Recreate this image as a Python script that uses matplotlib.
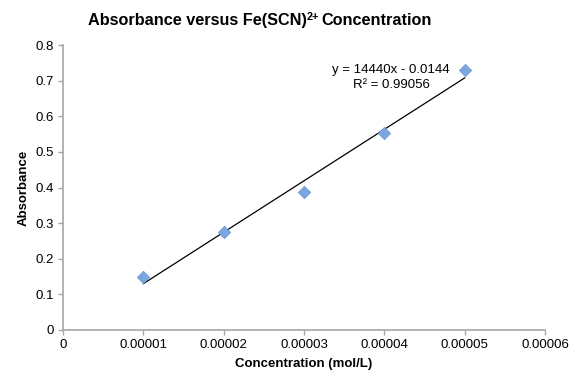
import numpy as np
import matplotlib
matplotlib.use("Agg")
import matplotlib.pyplot as plt

plt.rcParams['font.family'] = ['Liberation Sans', 'DejaVu Sans']

# data
conc = [0.00001, 0.00002, 0.00003, 0.00004, 0.00005]
absorb = [0.148, 0.275, 0.388, 0.553, 0.730]
x_ticks = [0, 0.00001, 0.00002, 0.00003, 0.00004, 0.00005, 0.00006]
x_tick_labels = ['0', '0.00001', '0.00002', '0.00003', '0.00004', '0.00005', '0.00006']
y_ticks = [0, 0.1, 0.2, 0.3, 0.4, 0.5, 0.6, 0.7, 0.8]
y_tick_labels = ['0', '0.1', '0.2', '0.3', '0.4', '0.5', '0.6', '0.7', '0.8']
slope, intercept = 14440, -0.0144

W, H = 580, 387
fig = plt.figure(figsize=(W/100, H/100), dpi=100)
ax = fig.add_axes([63/W, 57/H, 482/W, 285/H])

xs = np.array([conc[0], conc[-1]])
ax.plot(xs, slope*xs + intercept, color='black', lw=0.9, zorder=2)
ax.scatter(conc, absorb, marker='D', s=40, color='#7ba6e0', edgecolors='#6a95d0',
           linewidths=0.5, zorder=3)

ax.set_xlim(0, 0.00006)
ax.set_ylim(0, 0.8)
ax.set_xticks(x_ticks)
ax.set_xticklabels(x_tick_labels)
ax.set_yticks(y_ticks)
ax.set_yticklabels(y_tick_labels)
ax.tick_params(axis='both', labelsize=9.5, color='#a6a6a6', length=3.5, width=1, pad=3)

for s in ['top', 'right']:
    ax.spines[s].set_visible(False)
for s in ['left', 'bottom']:
    ax.spines[s].set_color('#a6a6a6')
    ax.spines[s].set_linewidth(1.2)

ax.set_xlabel('Concentration (mol/L)', fontsize=9.5, fontweight='bold', labelpad=5)
ax.set_ylabel('Absorbance', fontsize=9.5, fontweight='bold', labelpad=4)

# title in three pieces so the superscript sits tight
r = fig.canvas.get_renderer()
ty = 1 - 25/H
t1 = fig.text(88/W, ty, 'Absorbance versus Fe(SCN)', ha='left', va='baseline',
              fontsize=11.7, fontweight='bold')
b1 = t1.get_window_extent(r)
t2 = fig.text((b1.x1 - 0.5)/W, ty + 5/H, '2+', ha='left', va='baseline',
              fontsize=7.8, fontweight='bold')
b2 = t2.get_window_extent(r)
fig.text((b2.x1 + 3)/W, ty, 'Concentration', ha='left', va='baseline',
         fontsize=11.7, fontweight='bold')

fig.text(391/W, 1 - 70/H, 'y = 14440x - 0.0144', ha='center', va='center', fontsize=9.5)
fig.text(391/W, 1 - 85/H, 'R² = 0.99056', ha='center', va='center', fontsize=9.5)

fig.savefig('out.png', dpi=100)
